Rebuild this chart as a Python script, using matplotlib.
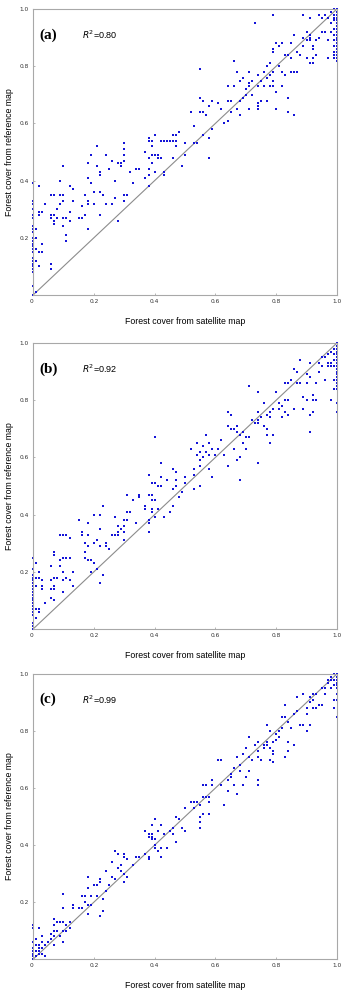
import numpy as np
import matplotlib
matplotlib.use("Agg")
import matplotlib.pyplot as plt

# panel letters and R^2 values
panel_tags = ["(a)", "(b)", "(c)"]
r2_values = ["0.80", "0.92", "0.99"]
tick_vals = [0, 0.2, 0.4, 0.6, 0.8, 1.0]
tick_text = ["0", "0.2", "0.4", "0.6", "0.8", "1.0"]

# reference values for plots sitting on x = 0 and x = 1
left_col_a = [0.39, 0.33, 0.32, 0.30, 0.28, 0.27, 0.24, 0.23, 0.22, 0.20, 0.19, 0.18,
              0.17, 0.16, 0.15, 0.13, 0.12, 0.11, 0.10, 0.09, 0.08, 0.03, 0.0]
right_col_a = [1.0, 0.99, 0.98, 0.97, 0.96, 0.95, 0.94, 0.93, 0.92, 0.91, 0.90, 0.89,
               0.88, 0.87, 0.86, 0.85, 0.84, 0.83, 0.82]
left_col_b = [0.25, 0.21, 0.19, 0.18, 0.17, 0.16, 0.15, 0.14, 0.13, 0.12, 0.11, 0.10,
              0.09, 0.08, 0.07, 0.06, 0.05, 0.02, 0.01, 0.0]
right_col_b = [1.0, 0.99, 0.98, 0.97, 0.96, 0.95, 0.94, 0.93, 0.92, 0.91, 0.90, 0.89,
               0.88, 0.87, 0.86, 0.85, 0.84, 0.79, 0.76]
left_col_c = [0.12, 0.11, 0.06, 0.04, 0.03, 0.02, 0.01, 0.0]
right_col_c = [1.0, 0.99, 0.98, 0.97, 0.96, 0.95, 0.93, 0.91]

# (satellite, reference) for the rest of the plots
points_a = [
    (0.01, 0.16), (0.01, 0.20), (0.01, 0.23), (0.01, 0.12), (0.01, 0.01),
    (0.02, 0.29), (0.02, 0.28), (0.02, 0.38), (0.02, 0.15), (0.02, 0.10),
    (0.03, 0.29), (0.03, 0.18), (0.03, 0.15), (0.04, 0.32),
    (0.06, 0.35), (0.07, 0.35), (0.06, 0.28), (0.06, 0.27), (0.07, 0.28), (0.07, 0.26),
    (0.07, 0.25), (0.08, 0.30), (0.08, 0.27), (0.09, 0.35), (0.09, 0.40), (0.09, 0.32),
    (0.10, 0.35), (0.10, 0.33), (0.10, 0.45), (0.10, 0.24), (0.10, 0.27),
    (0.06, 0.11), (0.06, 0.09),
    (0.11, 0.27), (0.11, 0.21), (0.11, 0.19), (0.12, 0.29), (0.12, 0.38), (0.12, 0.26),
    (0.13, 0.37), (0.13, 0.33), (0.15, 0.27), (0.16, 0.27), (0.16, 0.31), (0.17, 0.35),
    (0.17, 0.28), (0.18, 0.23), (0.18, 0.41), (0.18, 0.46), (0.18, 0.33), (0.18, 0.32),
    (0.19, 0.49), (0.19, 0.39), (0.20, 0.36), (0.20, 0.32),
    (0.21, 0.52), (0.21, 0.45), (0.22, 0.43), (0.22, 0.42), (0.22, 0.28), (0.22, 0.36),
    (0.23, 0.35), (0.24, 0.49), (0.24, 0.32), (0.25, 0.44), (0.26, 0.47), (0.26, 0.32),
    (0.27, 0.40), (0.27, 0.34), (0.28, 0.46), (0.28, 0.26), (0.29, 0.46), (0.29, 0.45),
    (0.30, 0.53), (0.30, 0.51), (0.30, 0.49), (0.30, 0.47), (0.30, 0.35), (0.30, 0.33),
    (0.31, 0.35), (0.32, 0.43), (0.33, 0.39), (0.34, 0.44), (0.35, 0.44),
    (0.37, 0.50), (0.37, 0.41), (0.38, 0.55), (0.38, 0.54), (0.38, 0.48), (0.38, 0.44),
    (0.38, 0.42), (0.38, 0.38), (0.39, 0.54), (0.39, 0.52), (0.39, 0.49), (0.39, 0.46),
    (0.40, 0.56), (0.40, 0.49), (0.40, 0.43), (0.41, 0.48), (0.41, 0.49),
    (0.42, 0.54), (0.42, 0.48), (0.43, 0.54), (0.43, 0.43), (0.43, 0.42), (0.44, 0.54),
    (0.45, 0.54), (0.46, 0.56), (0.46, 0.54), (0.46, 0.48), (0.47, 0.56), (0.47, 0.54),
    (0.47, 0.52), (0.48, 0.57), (0.49, 0.45), (0.50, 0.53), (0.50, 0.49),
    (0.52, 0.64), (0.53, 0.59), (0.53, 0.53), (0.54, 0.53),
    (0.55, 0.79), (0.55, 0.69), (0.55, 0.64), (0.56, 0.68), (0.56, 0.64), (0.56, 0.56),
    (0.57, 0.63), (0.58, 0.66), (0.58, 0.55), (0.58, 0.48), (0.59, 0.68), (0.59, 0.58),
    (0.61, 0.67), (0.62, 0.65), (0.63, 0.60), (0.64, 0.73), (0.64, 0.68), (0.64, 0.61),
    (0.65, 0.68), (0.65, 0.64), (0.66, 0.82), (0.66, 0.73), (0.67, 0.78), (0.67, 0.65),
    (0.68, 0.75), (0.68, 0.63), (0.68, 0.68), (0.69, 0.76), (0.69, 0.69),
    (0.70, 0.72), (0.70, 0.70), (0.71, 0.78), (0.71, 0.74), (0.71, 0.73), (0.71, 0.65),
    (0.72, 0.75), (0.72, 0.70), (0.73, 0.95), (0.74, 0.67), (0.74, 0.66), (0.74, 0.65),
    (0.74, 0.77), (0.74, 0.73), (0.75, 0.75), (0.75, 0.68),
    (0.76, 0.78), (0.76, 0.73), (0.77, 0.76), (0.77, 0.68), (0.77, 0.80), (0.78, 0.81),
    (0.78, 0.73), (0.78, 0.77), (0.79, 0.98), (0.79, 0.85), (0.79, 0.86), (0.79, 0.78),
    (0.79, 0.75), (0.79, 0.73), (0.80, 0.71), (0.80, 0.88), (0.80, 0.65), (0.81, 0.87),
    (0.81, 0.80), (0.82, 0.88), (0.82, 0.73), (0.82, 0.78), (0.83, 0.77), (0.83, 0.84),
    (0.84, 0.84), (0.84, 0.69), (0.84, 0.64), (0.85, 0.88), (0.85, 0.83), (0.85, 0.78),
    (0.86, 0.91), (0.86, 0.78), (0.86, 0.63), (0.87, 0.85), (0.87, 0.78), (0.88, 0.84),
    (0.89, 0.98), (0.89, 0.90), (0.89, 0.87), (0.90, 0.92), (0.90, 0.89), (0.90, 0.83),
    (0.91, 0.91), (0.91, 0.90), (0.91, 0.89), (0.91, 0.81), (0.91, 0.97), (0.92, 0.87),
    (0.92, 0.86), (0.92, 0.83), (0.92, 0.81), (0.93, 0.89), (0.93, 0.84), (0.94, 0.98),
    (0.94, 0.90), (0.95, 0.97), (0.95, 0.92), (0.96, 0.92), (0.96, 0.98),
    (0.97, 0.97), (0.97, 0.89), (0.97, 0.83), (0.98, 0.99), (0.98, 0.95), (0.98, 0.92),
    (0.99, 1.0), (0.99, 0.98), (0.99, 0.97), (0.99, 0.96), (0.99, 0.93), (0.99, 0.91),
    (0.99, 0.89), (0.99, 0.87), (0.99, 0.85), (0.99, 0.84), (0.99, 0.83),
]

points_b = [
    (0.01, 0.23), (0.01, 0.18), (0.01, 0.15), (0.01, 0.07), (0.01, 0.04), (0.02, 0.18),
    (0.02, 0.07), (0.02, 0.06), (0.02, 0.20), (0.03, 0.17), (0.03, 0.15), (0.03, 0.14),
    (0.04, 0.09), (0.06, 0.22), (0.06, 0.17), (0.06, 0.14), (0.06, 0.11), (0.07, 0.27),
    (0.07, 0.26), (0.07, 0.18), (0.07, 0.14), (0.07, 0.15), (0.07, 0.10), (0.08, 0.18),
    (0.09, 0.24), (0.09, 0.33), (0.09, 0.22), (0.10, 0.33), (0.10, 0.25), (0.10, 0.17),
    (0.10, 0.13), (0.10, 0.20), (0.11, 0.33), (0.11, 0.25), (0.11, 0.18), (0.12, 0.17),
    (0.12, 0.25), (0.12, 0.32), (0.13, 0.20), (0.13, 0.15),
    (0.15, 0.38), (0.16, 0.34), (0.16, 0.33), (0.17, 0.30), (0.17, 0.27), (0.17, 0.25),
    (0.18, 0.24), (0.18, 0.37), (0.18, 0.33), (0.18, 0.29), (0.19, 0.24), (0.19, 0.20),
    (0.20, 0.40), (0.20, 0.30), (0.20, 0.23), (0.21, 0.31), (0.21, 0.21), (0.22, 0.40),
    (0.22, 0.35), (0.22, 0.29), (0.22, 0.16), (0.23, 0.43), (0.23, 0.19), (0.24, 0.30),
    (0.24, 0.29), (0.25, 0.28), (0.26, 0.33), (0.27, 0.39), (0.27, 0.33), (0.28, 0.36),
    (0.28, 0.34), (0.28, 0.33), (0.29, 0.35), (0.30, 0.38), (0.30, 0.36), (0.30, 0.34),
    (0.30, 0.31), (0.31, 0.47), (0.31, 0.41), (0.31, 0.38), (0.32, 0.41), (0.33, 0.45),
    (0.34, 0.37), (0.35, 0.47), (0.35, 0.46),
    (0.37, 0.43), (0.37, 0.42), (0.38, 0.54), (0.38, 0.47), (0.38, 0.38), (0.38, 0.34),
    (0.38, 0.37), (0.39, 0.51), (0.39, 0.47), (0.39, 0.45), (0.39, 0.42), (0.39, 0.41),
    (0.40, 0.67), (0.40, 0.51), (0.40, 0.45), (0.40, 0.39), (0.41, 0.50), (0.41, 0.42),
    (0.42, 0.58), (0.42, 0.53), (0.42, 0.50), (0.43, 0.39), (0.44, 0.52), (0.45, 0.41),
    (0.46, 0.56), (0.46, 0.49), (0.46, 0.43), (0.47, 0.55), (0.47, 0.52), (0.47, 0.50),
    (0.48, 0.46), (0.49, 0.48), (0.50, 0.53), (0.50, 0.51),
    (0.52, 0.63), (0.53, 0.56), (0.53, 0.54), (0.53, 0.49), (0.54, 0.65), (0.54, 0.61),
    (0.55, 0.62), (0.55, 0.59), (0.55, 0.57), (0.55, 0.50), (0.56, 0.64), (0.56, 0.60),
    (0.57, 0.68), (0.57, 0.62), (0.58, 0.65), (0.58, 0.61), (0.58, 0.56), (0.59, 0.63),
    (0.59, 0.53), (0.60, 0.61), (0.61, 0.63), (0.62, 0.66), (0.63, 0.61),
    (0.64, 0.76), (0.64, 0.71), (0.64, 0.57), (0.65, 0.75), (0.65, 0.70), (0.66, 0.70),
    (0.66, 0.63), (0.67, 0.71), (0.67, 0.69), (0.67, 0.59), (0.68, 0.68), (0.68, 0.60),
    (0.68, 0.52), (0.69, 0.69), (0.69, 0.65), (0.70, 0.63), (0.70, 0.67), (0.71, 0.85),
    (0.71, 0.67), (0.72, 0.73), (0.73, 0.72),
    (0.74, 0.83), (0.74, 0.76), (0.74, 0.73), (0.74, 0.72), (0.74, 0.58), (0.75, 0.74),
    (0.76, 0.79), (0.76, 0.71), (0.77, 0.75), (0.77, 0.70), (0.77, 0.68), (0.78, 0.76),
    (0.78, 0.74), (0.78, 0.65), (0.79, 0.77), (0.79, 0.68),
    (0.80, 0.83), (0.81, 0.79), (0.81, 0.77), (0.82, 0.78), (0.82, 0.74), (0.83, 0.86),
    (0.83, 0.80), (0.83, 0.76), (0.84, 0.86), (0.84, 0.80), (0.84, 0.75), (0.85, 0.87),
    (0.86, 0.91), (0.86, 0.77), (0.87, 0.90), (0.87, 0.86), (0.88, 0.94), (0.88, 0.86),
    (0.89, 0.81), (0.89, 0.77), (0.90, 0.89), (0.90, 0.86), (0.90, 0.80),
    (0.91, 0.88), (0.91, 0.93), (0.91, 0.75), (0.91, 0.69), (0.92, 0.82), (0.92, 0.80),
    (0.92, 0.76), (0.93, 0.86), (0.93, 0.80), (0.94, 0.90), (0.94, 0.93), (0.95, 0.95),
    (0.95, 0.92), (0.96, 0.87), (0.96, 0.95), (0.97, 0.96), (0.97, 0.93), (0.97, 0.92),
    (0.98, 0.97), (0.98, 0.93), (0.98, 0.92), (0.98, 0.80), (0.99, 0.98), (0.99, 0.96),
    (0.99, 0.94), (0.99, 0.92), (0.99, 0.87), (0.99, 0.84),
]

points_c = [
    (0.01, 0.01), (0.01, 0.03), (0.01, 0.05), (0.01, 0.07), (0.02, 0.02), (0.02, 0.04),
    (0.02, 0.05), (0.02, 0.03), (0.02, 0.11), (0.03, 0.02), (0.03, 0.04), (0.03, 0.06),
    (0.03, 0.08), (0.04, 0.01), (0.04, 0.05), (0.05, 0.06),
    (0.06, 0.09), (0.06, 0.07), (0.07, 0.14), (0.07, 0.12), (0.07, 0.10), (0.07, 0.08),
    (0.07, 0.05), (0.08, 0.13), (0.08, 0.10), (0.09, 0.13), (0.09, 0.08),
    (0.10, 0.23), (0.10, 0.18), (0.10, 0.13), (0.10, 0.10), (0.10, 0.06), (0.11, 0.12),
    (0.11, 0.10), (0.12, 0.11), (0.12, 0.13), (0.13, 0.19), (0.13, 0.18),
    (0.15, 0.18), (0.16, 0.22), (0.16, 0.18), (0.17, 0.22), (0.17, 0.20), (0.18, 0.29),
    (0.18, 0.25), (0.18, 0.19), (0.18, 0.16), (0.19, 0.22), (0.19, 0.19),
    (0.20, 0.26), (0.21, 0.26), (0.21, 0.22), (0.22, 0.28), (0.22, 0.27), (0.22, 0.15),
    (0.23, 0.21), (0.23, 0.17), (0.24, 0.31), (0.24, 0.24), (0.25, 0.26),
    (0.26, 0.34), (0.26, 0.29), (0.27, 0.38), (0.27, 0.28), (0.28, 0.37), (0.28, 0.32),
    (0.29, 0.33), (0.29, 0.31), (0.30, 0.37), (0.30, 0.36), (0.30, 0.30), (0.30, 0.27),
    (0.31, 0.35), (0.31, 0.29), (0.33, 0.33),
    (0.34, 0.36), (0.35, 0.36), (0.37, 0.37), (0.37, 0.45), (0.38, 0.44), (0.38, 0.43),
    (0.38, 0.36), (0.38, 0.35), (0.39, 0.47), (0.39, 0.44), (0.39, 0.43), (0.39, 0.42),
    (0.40, 0.49), (0.40, 0.42), (0.40, 0.40), (0.40, 0.39), (0.41, 0.45), (0.41, 0.38),
    (0.42, 0.47), (0.42, 0.39), (0.42, 0.36), (0.43, 0.44), (0.44, 0.39), (0.45, 0.45),
    (0.46, 0.46), (0.46, 0.44), (0.47, 0.50), (0.47, 0.41), (0.48, 0.49), (0.49, 0.46),
    (0.50, 0.45), (0.50, 0.53),
    (0.52, 0.55), (0.53, 0.55), (0.53, 0.53), (0.54, 0.55), (0.55, 0.54), (0.55, 0.50),
    (0.55, 0.48), (0.55, 0.46), (0.56, 0.61), (0.56, 0.57), (0.56, 0.51), (0.57, 0.61),
    (0.57, 0.57), (0.58, 0.57), (0.58, 0.55), (0.58, 0.51), (0.59, 0.63), (0.59, 0.61),
    (0.61, 0.70), (0.62, 0.70), (0.62, 0.61), (0.63, 0.54), (0.64, 0.63), (0.64, 0.59),
    (0.65, 0.65), (0.65, 0.64), (0.66, 0.67), (0.66, 0.61), (0.67, 0.71), (0.67, 0.58),
    (0.68, 0.68), (0.68, 0.66), (0.69, 0.72), (0.69, 0.61), (0.70, 0.64), (0.70, 0.74),
    (0.71, 0.71), (0.71, 0.66), (0.71, 0.78), (0.72, 0.70), (0.73, 0.75), (0.74, 0.76),
    (0.74, 0.73), (0.74, 0.71), (0.74, 0.63), (0.74, 0.61), (0.75, 0.70),
    (0.76, 0.75), (0.76, 0.74), (0.77, 0.82), (0.77, 0.75), (0.77, 0.76), (0.78, 0.74),
    (0.78, 0.70), (0.78, 0.80), (0.79, 0.76), (0.79, 0.73), (0.79, 0.72), (0.79, 0.69),
    (0.80, 0.79), (0.80, 0.77), (0.81, 0.80), (0.81, 0.78), (0.82, 0.85), (0.82, 0.81),
    (0.83, 0.85), (0.83, 0.89), (0.83, 0.71), (0.84, 0.83), (0.84, 0.76), (0.84, 0.73),
    (0.85, 0.81), (0.86, 0.86), (0.86, 0.75), (0.87, 0.92), (0.87, 0.87), (0.88, 0.82),
    (0.89, 0.93), (0.89, 0.82), (0.90, 0.88), (0.90, 0.86), (0.90, 0.80), (0.91, 0.92),
    (0.91, 0.82), (0.91, 0.90), (0.92, 0.93), (0.92, 0.91), (0.92, 0.88), (0.93, 0.93),
    (0.93, 0.88), (0.94, 0.89), (0.95, 0.95), (0.95, 0.89), (0.96, 0.93), (0.96, 0.95),
    (0.97, 0.98), (0.97, 0.97), (0.98, 0.98), (0.98, 0.95), (0.98, 0.99), (0.99, 1.0),
    (0.99, 0.98), (0.99, 0.96), (0.99, 0.91), (0.99, 0.88), (1.0, 0.85),
]

panels = [
    (points_a, left_col_a, right_col_a),
    (points_b, left_col_b, right_col_b),
    (points_c, left_col_c, right_col_c),
]

plt.rcParams["mathtext.fontset"] = "dejavusans"

fig = plt.figure(figsize=(3.41, 9.92), dpi=100)
# axes boxes in figure fractions: [left, bottom, width, height]
boxes = [
    [0.097, 0.7026, 0.891, 0.2883],
    [0.097, 0.3659, 0.891, 0.2883],
    [0.097, 0.0330, 0.891, 0.2876],
]

for i, (pts, left_col, right_col) in enumerate(panels):
    ax = fig.add_axes(boxes[i])
    xs = [p[0] for p in pts] + [0.0] * len(left_col) + [1.0] * len(right_col)
    ys = [p[1] for p in pts] + left_col + right_col

    ax.plot([0, 1], [0, 1], color="#8c8c8c", lw=0.8, zorder=1)
    ax.scatter(xs, ys, s=2.6, marker="s", color="#1414d8", linewidths=0, zorder=2,
               clip_on=False)

    ax.set_xlim(0, 1)
    ax.set_ylim(0, 1)
    ax.set_xticks(tick_vals)
    ax.set_xticklabels(tick_text)
    ax.set_yticks(tick_vals[1:])
    ax.set_yticklabels(tick_text[1:])
    ax.get_xticklabels()[0].set_horizontalalignment("right")
    ax.tick_params(direction="in", length=1.5, width=0.5, color="#999999",
                   labelsize=4.2, labelcolor="#333333", pad=3)
    for sp in ax.spines.values():
        sp.set_color("#a8a8a8")
        sp.set_linewidth(0.8)

    ax.set_xlabel("Forest cover from satellite map", fontsize=6.3,
                  family="Liberation Sans", labelpad=9)
    ax.set_ylabel("Forest cover from reference map", fontsize=6.3,
                  family="Liberation Sans", labelpad=4)

    ax.text(0.022, 0.91, panel_tags[i], transform=ax.transAxes, fontsize=11,
            family="Liberation Serif", fontweight="bold", va="center")
    ax.text(0.16, 0.91, r"$R^2$=" + r2_values[i], transform=ax.transAxes,
            fontsize=6.5, family="Liberation Sans", va="center")

fig.savefig("out.png", dpi=100)
